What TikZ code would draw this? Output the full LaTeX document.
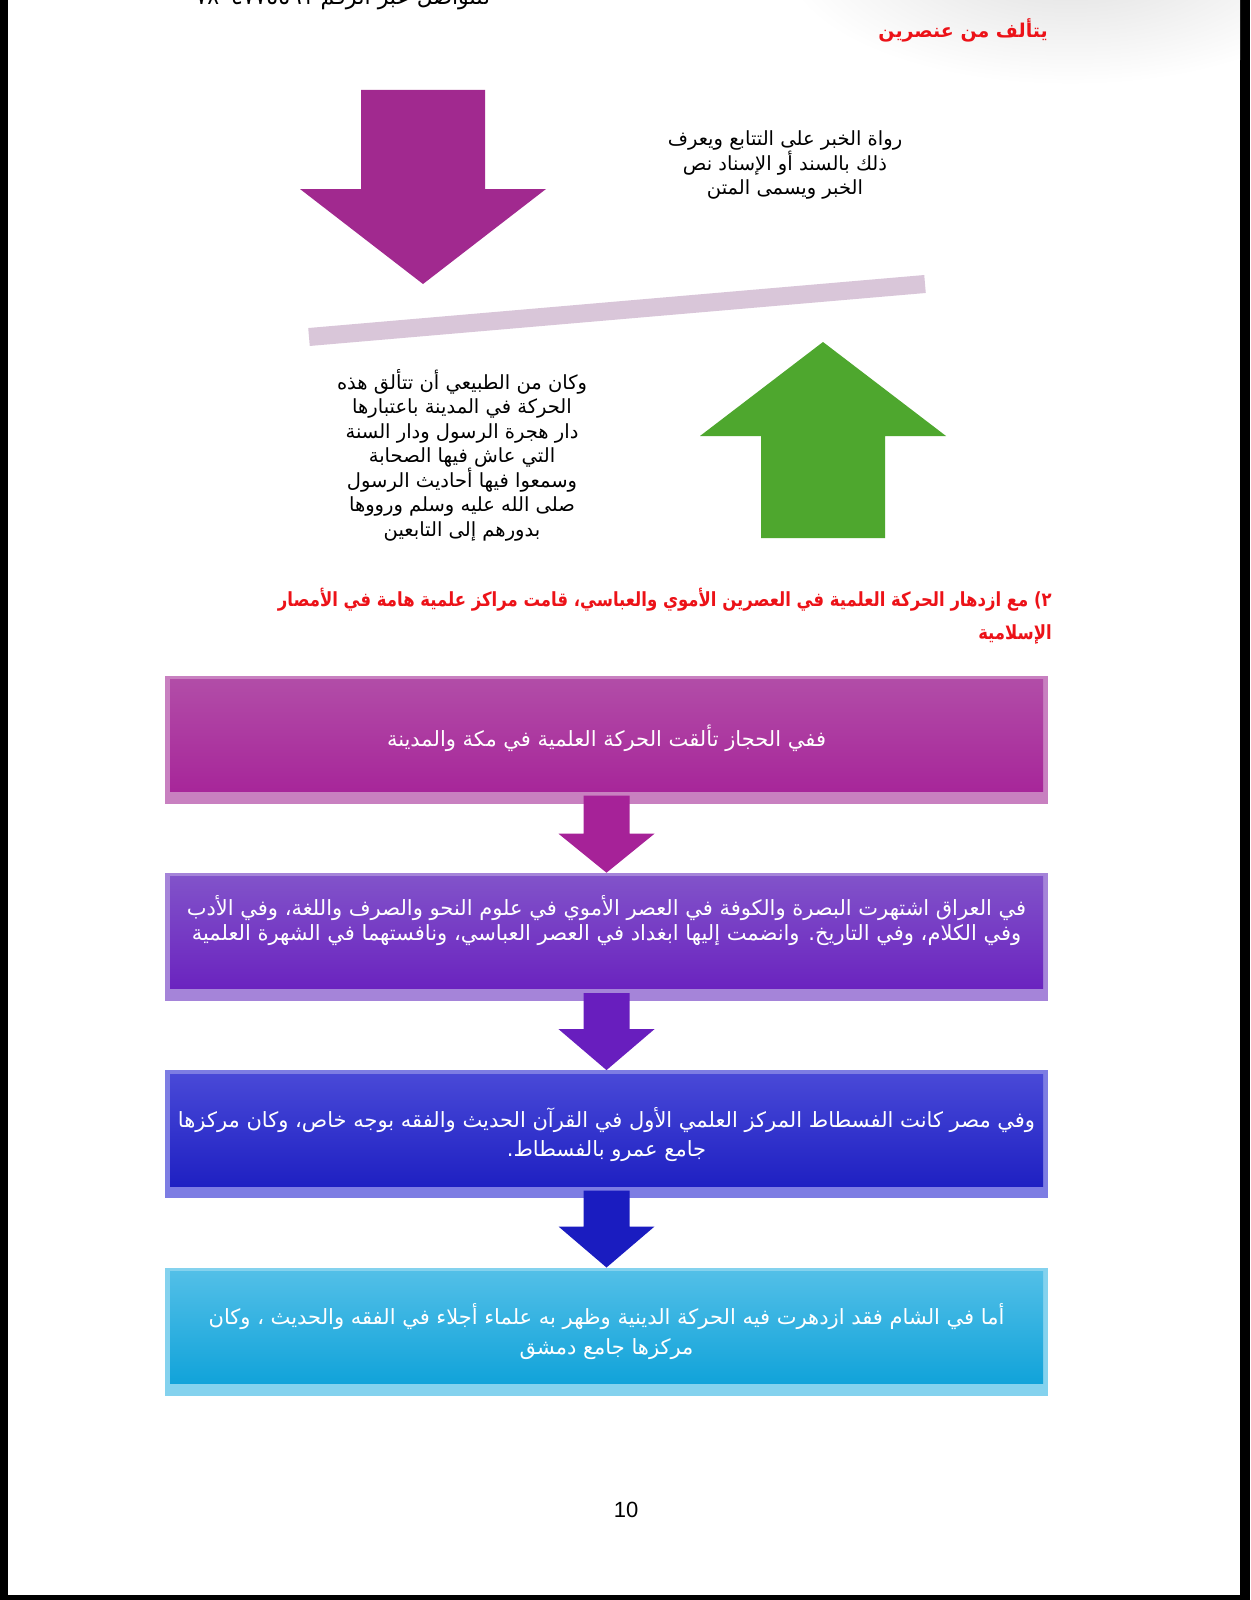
\documentclass[tikz,border=0pt]{standalone}
\usepackage{fontspec}
\usetikzlibrary{positioning, calc}
\TeXXeTstate=1
\newfontfamily\arabicfont[Script=Arabic]{DejaVu Sans}
\newfontfamily\latinfont{Liberation Sans}
\newcommand{\ar}[1]{\beginR #1\endR}
\definecolor{bigpurple}{RGB}{161,41,143}
\definecolor{barlilac}{RGB}{217,198,217}
\definecolor{biggreen}{RGB}{78,167,46}
\definecolor{headred}{RGB}{236,18,24}
\definecolor{hijaztop}{RGB}{178,78,168}
\definecolor{hijazbot}{RGB}{166,34,152}
\definecolor{iraqtop}{RGB}{130,84,202}
\definecolor{iraqbot}{RGB}{104,30,190}
\definecolor{misrtop}{RGB}{74,74,216}
\definecolor{misrbot}{RGB}{26,28,192}
\definecolor{shamtop}{RGB}{84,192,232}
\definecolor{shambot}{RGB}{10,160,216}

\begin{document}
\begin{tikzpicture}[x=1pt, y=-1pt, node distance=69pt,
    plaintext/.style={align=center, inner sep=0pt, font=\fontsize{19.5}{24.5}\selectfont\arabicfont},
    redhead/.style={text=headred, inner sep=0pt, font=\fontsize{19.5}{33}\selectfont\arabicfont\bfseries\addfontfeature{FakeStretch=0.845}},
    flowbox/.style 2 args={minimum width=883pt, minimum height=128pt, inner sep=0pt,
        fill=#1!72!white, text=white, align=center,
        font=\fontsize{21}{29.5}\selectfont\arabicfont,
        path picture={\shade[top color=#1, bottom color=#2]
            ($(path picture bounding box.south west)+(5,-12)$) rectangle
            ($(path picture bounding box.north east)+(-5,4)$);}}]
    \useasboundingbox (0,0) rectangle (1250,1600);
    \fill[black] (0,0) rectangle (1250,1600);
    \fill[white] (8,-10) rectangle (1240,1595);
    \begin{scope}
        \clip (8,0) rectangle (1240,1595);
        \shade[inner color=black!13, outer color=white] (1070,-45) ellipse (290 and 130);
    \end{scope}

    % page header
    \node[plaintext, font=\fontsize{22}{26}\selectfont\arabicfont, anchor=base] (phone) at (337,5) {\ar{للتواصل عبر الرقم ٠٧٨٠٤٧٧٥٥٩١}};
    \node[redhead, font=\fontsize{19}{22}\selectfont\arabicfont\bfseries, anchor=east] (parts) at (1048,30) {\ar{يتألف من عنصرين}};

    % two elements
    \fill[bigpurple] (361,90) -- (485,90) -- (485,189) -- (546,189) -- (423,284) -- (300,189) -- (361,189) -- cycle;
    \node[plaintext] (isnad) at (785,165) {\ar{رواة الخبر على التتابع ويعرف}\\\ar{ذلك بالسند أو الإسناد نص}\\\ar{الخبر ويسمى المتن}};
    \draw[barlilac, line width=18pt] (309,337) -- (925,284);
    \fill[biggreen] (823,342) -- (946,436) -- (885,436) -- (885,538) -- (761,538) -- (761,436) -- (700,436) -- cycle;
    \node[plaintext] (madina) at (462,455) {\ar{وكان من الطبيعي أن تتألق هذه}\\\ar{الحركة في المدينة باعتبارها}\\\ar{دار هجرة الرسول ودار السنة}\\\ar{التي عاش فيها الصحابة}\\\ar{وسمعوا فيها أحاديث الرسول}\\\ar{صلى الله عليه وسلم ورووها}\\\ar{بدورهم إلى التابعين}};

    \node[redhead, anchor=east, align=right] (centres) at (1052,616) {\ar{٢) مع ازدهار الحركة العلمية في العصرين الأموي والعباسي، قامت مراكز علمية هامة في الأمصار}\\\ar{الإسلامية}};

    % flow of centres
    \node[flowbox={hijaztop}{hijazbot}] (hijaz) at (606.5,739.5) {\ar{ففي الحجاز تألقت الحركة العلمية في مكة والمدينة}\\[-22pt]\mbox{}};
    \node[flowbox={iraqtop}{iraqbot}, font=\fontsize{21}{25}\selectfont\arabicfont, below=of hijaz] (iraq) {\ar{في العراق اشتهرت البصرة والكوفة في العصر الأموي في علوم النحو والصرف واللغة، وفي الأدب}\\\ar{وفي الكلام، وفي التاريخ. وانضمت إليها ابغداد في العصر العباسي، ونافستهما في الشهرة العلمية}\\[13pt]\mbox{}};
    \node[flowbox={misrtop}{misrbot}, below=of iraq] (misr) {\ar{وفي مصر كانت الفسطاط المركز العلمي الأول في القرآن الحديث والفقه بوجه خاص، وكان مركزها}\\\ar{جامع عمرو بالفسطاط.}};
    \node[flowbox={shamtop}{shambot}, below=of misr] (sham) {\ar{أما في الشام فقد ازدهرت فيه الحركة الدينية وظهر به علماء أجلاء في الفقه والحديث ، وكان}\\\ar{مركزها جامع دمشق}};

    \fill[hijazbot] ($(hijaz.south)+(-23,-8)$) -- ($(hijaz.south)+(23,-8)$) -- ($(hijaz.south)+(23,30)$) -- ($(hijaz.south)+(48,30)$) -- (iraq.north) -- ($(hijaz.south)+(-48,30)$) -- ($(hijaz.south)+(-23,30)$) -- cycle;
    \fill[iraqbot] ($(iraq.south)+(-23,-8)$) -- ($(iraq.south)+(23,-8)$) -- ($(iraq.south)+(23,28)$) -- ($(iraq.south)+(48,28)$) -- (misr.north) -- ($(iraq.south)+(-48,28)$) -- ($(iraq.south)+(-23,28)$) -- cycle;
    \fill[misrbot] ($(misr.south)+(-23,-8)$) -- ($(misr.south)+(23,-8)$) -- ($(misr.south)+(23,28)$) -- ($(misr.south)+(48,28)$) -- (sham.north) -- ($(misr.south)+(-48,28)$) -- ($(misr.south)+(-23,28)$) -- cycle;

    \node[font=\fontsize{22}{26}\selectfont\latinfont] (page) at (626,1510) {10};
\end{tikzpicture}
\end{document}
